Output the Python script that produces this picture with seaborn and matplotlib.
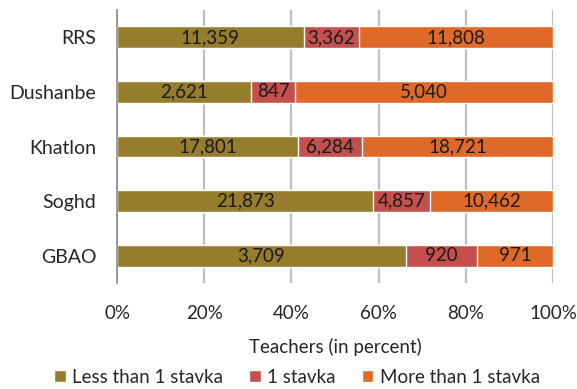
import numpy as np
import pandas as pd
import matplotlib
matplotlib.use("Agg")
import matplotlib.pyplot as plt
import seaborn as sns
from matplotlib.patches import Patch
from matplotlib.ticker import FixedLocator, PercentFormatter

regions = ["RRS", "Dushanbe", "Khatlon", "Soghd", "GBAO"]
less_than_1 = [11359, 2621, 17801, 21873, 3709]
exactly_1 = [3362, 847, 6284, 4857, 920]
more_than_1 = [11808, 5040, 18721, 10462, 971]
series_names = ["Less than 1 stavka", "1 stavka", "More than 1 stavka"]
colors = ["#967D2D", "#C3504D", "#DF6929"]

sns.set_theme(style="white")
plt.rcParams["font.family"] = ["Lato", "DejaVu Sans"]

FS = 13.5
TXT = "#262626"

counts = np.array([less_than_1, exactly_1, more_than_1], dtype=float)
totals = counts.sum(axis=0)
shares = counts / totals * 100
cum = np.cumsum(shares, axis=0)

fig = plt.figure(figsize=(5.77, 3.89), dpi=100)
ax = fig.add_axes([0.2028, 0.2725, 0.7556, 0.7015])

# stacked bars: draw cumulative totals from the widest down
for i in range(2, -1, -1):
    df = pd.DataFrame({"region": regions, "value": cum[i]})
    sns.barplot(data=df, x="value", y="region", orient="h", color=colors[i],
                saturation=1, width=0.4, ax=ax, zorder=2)

# value labels centred in each segment
for i in range(3):
    left = cum[i] - shares[i]
    for j, r in enumerate(regions):
        ax.text(left[j] + shares[i][j] / 2, j, f"{int(counts[i][j]):,}",
                ha="center", va="center", fontsize=FS, color="#1a1a1a", zorder=3)

ax.set_xlim(0, 100)
ax.set_ylim(4.5, -0.5)
ax.set_xticks([0, 20, 40, 60, 80, 100])
ax.xaxis.set_major_formatter(PercentFormatter(decimals=0))
ax.grid(axis="x", color="#BFBFBF", linewidth=1.6, zorder=0)
ax.set_axisbelow(True)
for s in ["top", "right", "bottom"]:
    ax.spines[s].set_visible(False)
ax.spines["left"].set_color("#8C8C8C")
ax.spines["left"].set_linewidth(1.2)
ax.tick_params(axis="x", length=0, pad=16, labelsize=FS, colors=TXT)
ax.tick_params(axis="y", which="major", length=0, pad=15, labelsize=14, colors=TXT)
ax.yaxis.set_minor_locator(FixedLocator(np.arange(-0.5, 5.0, 1.0)))
ax.tick_params(axis="y", which="minor", length=5, width=1.2, color="#8C8C8C")
ax.set_ylabel("")
ax.set_xlabel("Teachers (in percent)", fontsize=FS, color=TXT, labelpad=11)

handles = [Patch(facecolor=c, label=n) for c, n in zip(colors, series_names)]
fig.legend(handles=handles, loc="center", bbox_to_anchor=(0.515, 0.03), ncol=3,
           frameon=False, fontsize=FS, handlelength=0.6, handleheight=0.6,
           handletextpad=0.35, columnspacing=1.4, labelcolor=TXT,
           borderpad=0, borderaxespad=0)

fig.savefig("out.png", dpi=100)
